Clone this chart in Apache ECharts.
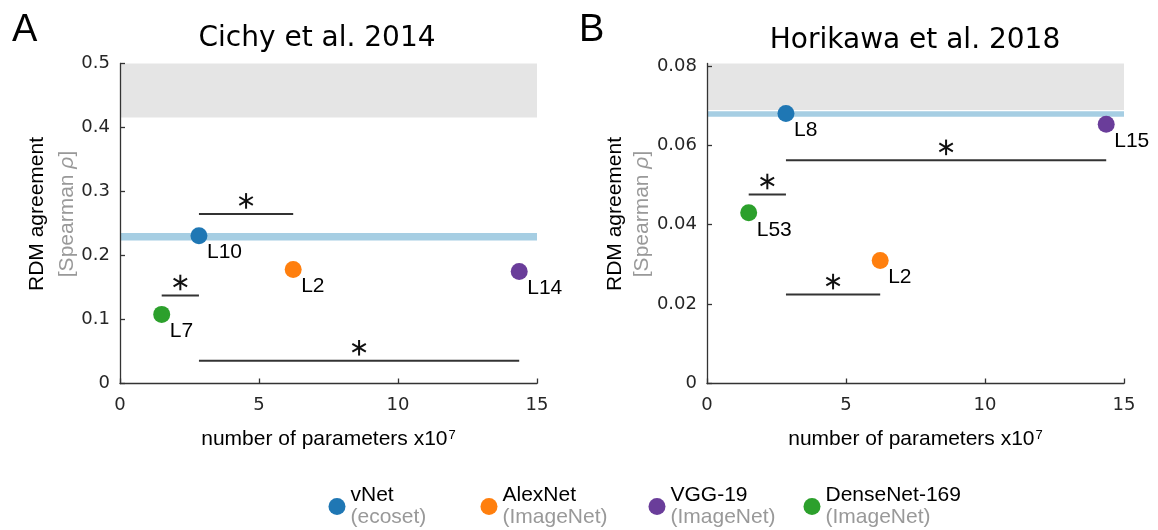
<!DOCTYPE html>
<html>
<head>
<meta charset="utf-8">
<title>RDM agreement vs. number of parameters</title>
<script src="https://cdn.jsdelivr.net/npm/echarts@6/dist/echarts.min.js"></script>
<style>
  html, body { margin: 0; padding: 0; background: #fff; }
  #chart { width: 1158px; height: 530px; }
</style>
</head>
<body>
<div id="chart"></div>
<script>
// Networks and the datasets they were trained on
const networks = ['vNet', 'AlexNet', 'VGG-19', 'DenseNet-169'];
const trainingSets = ['(ecoset)', '(ImageNet)', '(ImageNet)', '(ImageNet)'];
const netColors = ['#1f77b4', '#ff7f0e', '#6a3d9a', '#2ca02c'];

// Number of parameters (x10^7)
const paramCounts = [2.84, 6.23, 14.36, 1.50];

// Panel A: Cichy et al. 2014
const cichyValues = [0.231, 0.178, 0.175, 0.108];
const cichyLayers = ['L10', 'L2', 'L14', 'L7'];
const cichyNoiseCeiling = [0.4156, 0.5];
const cichyVnetBand = [0.2235, 0.235];
// significance bars: [x from, x to, height]
const cichySigBars = [[2.84, 6.23, 0.265], [1.50, 2.84, 0.1375], [2.84, 14.36, 0.0355]];
const cichyYTicks = [0, 0.1, 0.2, 0.3, 0.4, 0.5];

// Panel B: Horikawa et al. 2018
const horikawaValues = [0.0680, 0.0310, 0.0653, 0.0430];
const horikawaLayers = ['L8', 'L2', 'L15', 'L53'];
const horikawaNoiseCeiling = [0.0689, 0.0806];
const horikawaVnetBand = [0.0672, 0.0686];
const horikawaSigBars = [[2.84, 14.36, 0.0562], [1.50, 2.84, 0.0476], [2.84, 6.23, 0.0224]];
const horikawaYTicks = [0, 0.02, 0.04, 0.06, 0.08];

const xTicks = [0, 5, 10, 15];

const SANS = '"Liberation Sans", Arial, sans-serif';
const DEJAVU = '"DejaVu Sans", sans-serif';
const AXIS_COLOR = '#333';

const chart = echarts.init(document.getElementById('chart'), null, { renderer: 'canvas' });

function makeXAxis(gridIndex) {
  return {
    type: 'value', gridIndex, min: 0, max: 15, z: 10,
    name: '{a|number of parameters x10}{s|7}',
    nameLocation: 'middle', nameGap: 45,
    nameTextStyle: {
      rich: {
        a: { fontFamily: SANS, fontSize: 21, color: '#000' },
        s: { fontFamily: SANS, fontSize: 13, color: '#000', verticalAlign: 'top', padding: [0, 0, 0, 1] }
      }
    },
    axisLine: { show: true, onZero: false, lineStyle: { color: AXIS_COLOR, width: 1.3 } },
    axisTick: { show: true, inside: true, length: 5, customValues: xTicks, lineStyle: { color: AXIS_COLOR, width: 1.3 } },
    axisLabel: { customValues: xTicks, margin: 13, fontFamily: DEJAVU, fontSize: 18, color: '#262626' },
    splitLine: { show: false }
  };
}

function makeYAxis(gridIndex, max, ticks) {
  return {
    type: 'value', gridIndex, min: 0, max, z: 10,
    axisLine: { show: true, onZero: false, lineStyle: { color: AXIS_COLOR, width: 1.3 } },
    axisTick: { show: true, inside: true, length: 5, customValues: ticks, lineStyle: { color: AXIS_COLOR, width: 1.3 } },
    axisLabel: { customValues: ticks, margin: 10, fontFamily: DEJAVU, fontSize: 18, color: '#262626' },
    splitLine: { show: false }
  };
}

// Shaded bands: noise ceiling (grey) and vNet reference (light blue)
function bandSeries(gridIndex, noise, vnetBand) {
  return {
    type: 'line', xAxisIndex: gridIndex, yAxisIndex: gridIndex,
    data: [], silent: true, z: 1,
    markArea: {
      silent: true,
      data: [
        [{ xAxis: 0, yAxis: noise[0], itemStyle: { color: '#e5e5e5' } }, { xAxis: 15, yAxis: noise[1] }],
        [{ xAxis: 0, yAxis: vnetBand[0], itemStyle: { color: '#a6cee3' } }, { xAxis: 15, yAxis: vnetBand[1] }]
      ]
    }
  };
}

// Significance bars with an asterisk centred above each bar
function sigSeries(gridIndex, bars) {
  return {
    type: 'custom', xAxisIndex: gridIndex, yAxisIndex: gridIndex,
    data: bars, silent: true, z: 2, clip: false,
    renderItem(params, api) {
      const p1 = api.coord([api.value(0), api.value(2)]);
      const p2 = api.coord([api.value(1), api.value(2)]);
      const cx = (p1[0] + p2[0]) / 2;
      const cy = p1[1] - 13;
      const r = 7.8;
      const stroke = { stroke: '#111', lineWidth: 2 };
      const armX = r * Math.cos(Math.PI / 6);
      const armY = r * Math.sin(Math.PI / 6);
      return {
        type: 'group',
        children: [
          { type: 'line', shape: { x1: p1[0], y1: p1[1], x2: p2[0], y2: p2[1] }, style: { stroke: '#333', lineWidth: 2 } },
          { type: 'line', shape: { x1: cx, y1: cy - r, x2: cx, y2: cy + r }, style: stroke },
          { type: 'line', shape: { x1: cx - armX, y1: cy - armY, x2: cx + armX, y2: cy + armY }, style: stroke },
          { type: 'line', shape: { x1: cx - armX, y1: cy + armY, x2: cx + armX, y2: cy - armY }, style: stroke }
        ]
      };
    }
  };
}

function pointSeries(gridIndex, values, layers) {
  return networks.map((name, i) => ({
    type: 'scatter', name, xAxisIndex: gridIndex, yAxisIndex: gridIndex,
    symbol: 'circle', symbolSize: 17, z: 3,
    itemStyle: { color: netColors[i], opacity: 1 },
    data: [[paramCounts[i], values[i]]],
    label: {
      show: true, formatter: layers[i],
      position: [16.5, 25.5], align: 'left', verticalAlign: 'middle',
      fontFamily: SANS, fontSize: 21, color: '#000'
    },
    emphasis: { disabled: true }
  }));
}

const legendLefts = [328.5, 480.5, 648.5, 803.5];

function yNameGraphic(x1, x2, y) {
  return [
    {
      type: 'text', x: x1, y, rotation: Math.PI / 2, silent: true,
      style: { text: 'RDM agreement', fontFamily: SANS, fontSize: 21, fill: '#000', align: 'center', verticalAlign: 'middle' }
    },
    {
      type: 'text', x: x2, y, rotation: Math.PI / 2, silent: true,
      style: {
        text: '{g|[Spearman }{i|ρ}{g|]}', align: 'center', verticalAlign: 'middle',
        rich: {
          g: { fontFamily: SANS, fontSize: 21, fill: '#999' },
          i: { fontFamily: SANS, fontSize: 21, fill: '#999', fontStyle: 'italic' }
        }
      }
    }
  ];
}

const option = {
  animation: false,
  backgroundColor: '#fff',
  grid: [
    { left: 120, width: 417, top: 63.5, height: 320 },
    { left: 707, width: 417, top: 63.5, height: 320 }
  ],
  xAxis: [makeXAxis(0), makeXAxis(1)],
  yAxis: [makeYAxis(0, 0.5, cichyYTicks), makeYAxis(1, 0.0806, horikawaYTicks)],
  legend: networks.map((name, i) => ({
    data: [{ name, icon: 'circle' }],
    left: legendLefts[i], top: 485, padding: 0,
    itemWidth: 17, itemHeight: 17,
    selectedMode: false,
    formatter: n => `{n|${n}}\n{d|${trainingSets[i]}}`,
    textStyle: {
      rich: {
        n: { fontFamily: SANS, fontSize: 21, color: '#000', lineHeight: 22 },
        d: { fontFamily: SANS, fontSize: 21, color: '#999', lineHeight: 22 }
      }
    }
  })),
  graphic: [
    { type: 'text', x: 12, y: 31, silent: true, style: { text: 'A', fontFamily: SANS, fontSize: 38, fill: '#000', verticalAlign: 'middle' } },
    { type: 'text', x: 579, y: 31, silent: true, style: { text: 'B', fontFamily: SANS, fontSize: 38, fill: '#000', verticalAlign: 'middle' } },
    { type: 'text', x: 317, y: 39, silent: true, style: { text: 'Cichy et al. 2014', fontFamily: DEJAVU, fontSize: 28, fill: '#000', align: 'center', verticalAlign: 'middle' } },
    { type: 'text', x: 915, y: 41, silent: true, style: { text: 'Horikawa et al. 2018', fontFamily: DEJAVU, fontSize: 28, fill: '#000', align: 'center', verticalAlign: 'middle' } },
    ...yNameGraphic(37, 67, 214),
    ...yNameGraphic(615, 642, 214)
  ],
  series: [
    bandSeries(0, cichyNoiseCeiling, cichyVnetBand),
    bandSeries(1, horikawaNoiseCeiling, horikawaVnetBand),
    sigSeries(0, cichySigBars),
    sigSeries(1, horikawaSigBars),
    ...pointSeries(0, cichyValues, cichyLayers),
    ...pointSeries(1, horikawaValues, horikawaLayers)
  ]
};

chart.setOption(option);
</script>
</body>
</html>
